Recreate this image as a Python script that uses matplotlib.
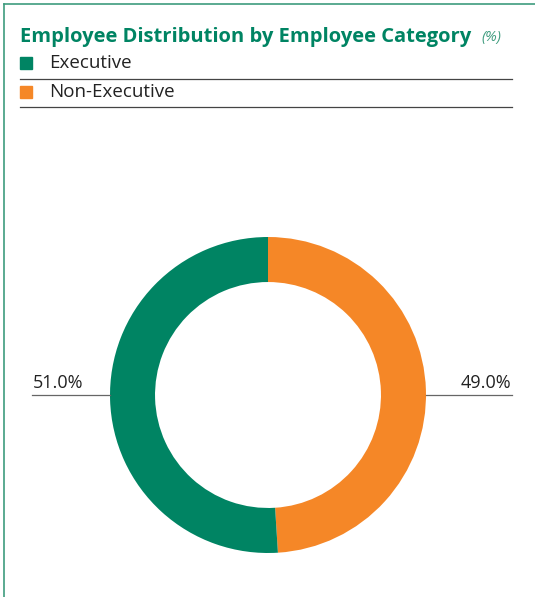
import matplotlib.pyplot as plt
from matplotlib.lines import Line2D
from matplotlib.patches import Rectangle

categories = ["Executive", "Non-Executive"]
shares = [51.0, 49.0]
colors = ["#008463", "#F58727"]
title = "Employee Distribution by Employee Category"
unit = "(%)"

W, H = 535, 597
fig = plt.figure(figsize=(W / 100, H / 100), dpi=100)
fig.patch.set_facecolor("white")

def fx(px):
    return px / W

def fy(py):
    return 1 - py / H

frame_col = "#3E9C7E"
fig.add_artist(Line2D([fx(4), fx(535)], [fy(4), fy(4)], color=frame_col, lw=1.2))
fig.add_artist(Line2D([fx(4), fx(4)], [fy(4), fy(597)], color=frame_col, lw=1.2))

font = ["Open Sans", "DejaVu Sans"]
fig.text(fx(20), fy(37), title, fontsize=14.5, fontweight="bold",
         color="#008463", family=font, va="center", ha="left")
fig.text(fx(481), fy(38), unit, fontsize=10.5, style="italic",
         color="#3E9C7E", family=font, va="center", ha="left")

# legend rows
row_y = [63, 92]
rule_y = [79, 107]
for cat, col, y, ry in zip(categories, colors, row_y, rule_y):
    fig.add_artist(Rectangle((fx(20), fy(y + 6)), fx(12), 12 / H,
                             color=col, transform=fig.transFigure))
    fig.text(fx(49), fy(y), cat, fontsize=13.5, color="#222222",
             family=font, va="center", ha="left")
    fig.add_artist(Line2D([fx(20), fx(512)], [fy(ry), fy(ry)],
                          color="#444444", lw=0.9))

# donut
cx, cy, r = 268, 395, 158
ax = fig.add_axes([fx(cx - r), fy(cy + r), 2 * r / W, 2 * r / H])
# draw clockwise from the top, Non-Executive first
ax.pie(shares[::-1], colors=colors[::-1], startangle=90, counterclock=False,
       radius=1.0, wedgeprops=dict(width=0.285, edgecolor="none"))
ax.set_xlim(-1, 1)
ax.set_ylim(-1, 1)
ax.set_aspect("auto")
ax.axis("off")

# value labels with leader rules
lab_col = "#666666"
fig.add_artist(Line2D([fx(32), fx(cx - r)], [fy(cy), fy(cy)], color=lab_col, lw=0.9))
fig.add_artist(Line2D([fx(cx + r), fx(512)], [fy(cy), fy(cy)], color=lab_col, lw=0.9))
fig.text(fx(33), fy(383), f"{shares[0]:.1f}%", fontsize=13, color="#222222",
         family=font, va="center", ha="left")
fig.text(fx(511), fy(383), f"{shares[1]:.1f}%", fontsize=13, color="#222222",
         family=font, va="center", ha="right")

fig.savefig("out.png", dpi=100, facecolor="white")
